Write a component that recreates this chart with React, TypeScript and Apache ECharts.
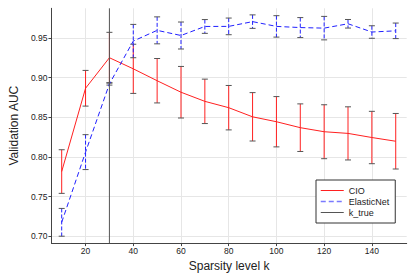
import React, { useEffect, useRef } from "react";
import * as echarts from "echarts";

const K_VALUES = [10, 20, 30, 40, 50, 60, 70, 80, 90, 100, 110, 120, 130, 140, 150];
const CIO_MEAN = [0.7815, 0.8865, 0.925, 0.911, 0.896, 0.8815, 0.870, 0.862, 0.8505, 0.8443, 0.8368, 0.8317, 0.8296, 0.8244, 0.8197];
const CIO_ERR = [0.0275, 0.0225, 0.032, 0.031, 0.028, 0.0325, 0.028, 0.028, 0.0305, 0.0317, 0.030, 0.034, 0.0335, 0.033, 0.035];
const EN_MEAN = [0.7175, 0.806, 0.892, 0.946, 0.9595, 0.953, 0.9644, 0.9645, 0.9705, 0.9645, 0.963, 0.9623, 0.9678, 0.9574, 0.9589];
const EN_ERR = [0.0175, 0.022, 0.0015, 0.021, 0.017, 0.017, 0.0087, 0.0105, 0.0085, 0.0135, 0.0126, 0.0148, 0.0054, 0.0079, 0.0098];
const K_TRUE = 30;
const X_TICKS = [20, 40, 60, 80, 100, 120, 140];
const Y_TICKS = [0.7, 0.75, 0.8, 0.85, 0.9, 0.95];
const X_MIN = 5.7;
const X_MAX = 154.6;
const Y_MIN = 0.6913;
const Y_MAX = 0.9873;

const FONT = "Liberation Sans";
const RED = "#ff2020";
const BLUE = "#2020ff";
const GRAY = "#555";

function errorBarSeries(name: string, mean: number[], err: number[], color: string, dashed: boolean) {
  return {
    type: "custom",
    name,
    data: K_VALUES.map((k, i) => [k, mean[i], err[i]]),
    encode: { x: 0, y: 1 },
    silent: true,
    renderItem: (_params: any, api: any) => {
      const x = api.value(0);
      const m = api.value(1);
      const e = api.value(2);
      const top = api.coord([x, m + e]);
      const bot = api.coord([x, m - e]);
      const hw = 3;
      return {
        type: "group",
        children: [
          {
            type: "line",
            shape: { x1: top[0], y1: top[1], x2: bot[0], y2: bot[1] },
            style: { stroke: color, lineWidth: 1, lineDash: dashed ? [4, 2] : null },
          },
          {
            type: "line",
            shape: { x1: top[0] - hw, y1: top[1], x2: top[0] + hw, y2: top[1] },
            style: { stroke: GRAY, lineWidth: 1 },
          },
          {
            type: "line",
            shape: { x1: bot[0] - hw, y1: bot[1], x2: bot[0] + hw, y2: bot[1] },
            style: { stroke: GRAY, lineWidth: 1 },
          },
        ],
      };
    },
  };
}

export default function App() {
  const ref = useRef<HTMLDivElement>(null);
  useEffect(() => {
    if (!ref.current) return;
    const chart = echarts.init(ref.current, null, { renderer: "svg" });
    chart.setOption({
      animation: false,
      backgroundColor: "#fff",
      grid: { left: 42, right: 8.3, top: 8.3, bottom: 30.7 },
      xAxis: {
        type: "value",
        min: X_MIN,
        max: X_MAX,
        name: "Sparsity level k",
        nameLocation: "middle",
        nameGap: 14,
        nameTextStyle: { fontFamily: FONT, fontSize: 12, color: "#222" },
        axisLine: { show: true, onZero: false, lineStyle: { color: "#444", width: 1 } },
        axisTick: { show: true, length: 3, customValues: X_TICKS, lineStyle: { color: "#444" } },
        axisLabel: {
          customValues: X_TICKS,
          fontFamily: FONT,
          fontSize: 8.5,
          color: "#222",
          margin: 3,
        },
        splitLine: { show: true, lineStyle: { color: "#e6e6e6", width: 1 } },
      },
      yAxis: {
        type: "value",
        min: Y_MIN,
        max: Y_MAX,
        name: "Validation AUC",
        nameLocation: "middle",
        nameGap: 26,
        nameTextStyle: { fontFamily: FONT, fontSize: 12, color: "#222" },
        axisLine: { show: true, onZero: false, lineStyle: { color: "#444", width: 1 } },
        axisTick: { show: true, length: 3, customValues: Y_TICKS, lineStyle: { color: "#444" } },
        axisLabel: {
          customValues: Y_TICKS,
          formatter: (v: number) => v.toFixed(2),
          fontFamily: FONT,
          fontSize: 8.5,
          color: "#222",
          margin: 4,
        },
        splitLine: { show: true, lineStyle: { color: "#e6e6e6", width: 1 } },
      },
      legend: {
        data: [
          { name: "CIO", lineStyle: { color: RED, width: 1 } },
          { name: "ElasticNet", lineStyle: { color: "#7a7aff", width: 1.5, type: [5, 3] } },
          { name: "k_true", lineStyle: { color: GRAY, width: 1 } },
        ],
        orient: "vertical",
        left: 316,
        top: 180,
        itemWidth: 23,
        itemHeight: 8,
        itemGap: 2,
        padding: [6, 6, 6, 4],
        borderColor: "#333",
        borderWidth: 1,
        borderRadius: 0,
        backgroundColor: "#fff",
        itemStyle: { opacity: 0 },
        textStyle: { fontFamily: FONT, fontSize: 9, color: "#222" },
      },
      series: [
        {
          type: "line",
          name: "CIO",
          data: K_VALUES.map((k, i) => [k, CIO_MEAN[i]]),
          symbol: "none",
          lineStyle: { color: RED, width: 1 },
          itemStyle: { color: RED },
        },
        errorBarSeries("CIO_err", CIO_MEAN, CIO_ERR, RED, false),
        {
          type: "line",
          name: "ElasticNet",
          data: K_VALUES.map((k, i) => [k, EN_MEAN[i]]),
          symbol: "none",
          lineStyle: { color: BLUE, width: 1, type: [5, 3] },
          itemStyle: { color: BLUE },
        },
        errorBarSeries("EN_err", EN_MEAN, EN_ERR, BLUE, true),
        {
          type: "line",
          name: "k_true",
          data: [
            [K_TRUE, Y_MIN],
            [K_TRUE, Y_MAX],
          ],
          symbol: "none",
          lineStyle: { color: GRAY, width: 1 },
          itemStyle: { color: GRAY },
        },
      ],
    });
    return () => chart.dispose();
  }, []);
  return <div ref={ref} style={{ width: 415, height: 277, position: "absolute", left: 0, top: 0 }} />;
}
